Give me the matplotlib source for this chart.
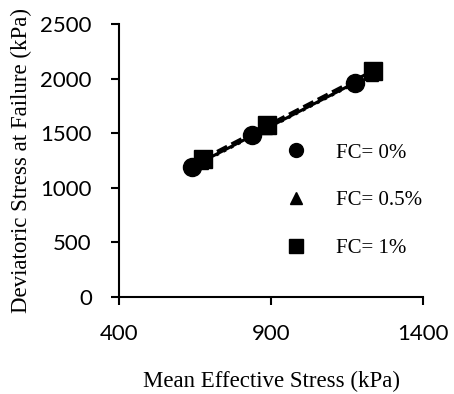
import numpy as np
import matplotlib
matplotlib.use("Agg")
import matplotlib.pyplot as plt

# mean effective stress p' (kPa) and deviatoric stress at failure q (kPa)
p_fc0 = [639, 836, 1177]
q_fc0 = [1186, 1478, 1962]
p_fc05 = [672, 884, 1232]
q_fc05 = [1225, 1545, 2035]
p_fc1 = [675, 888, 1236]
q_fc1 = [1259, 1578, 2071]

labels = ["FC= 0%", "FC= 0.5%", "FC= 1%"]

serif = "Liberation Serif"
sans = "Lato"

fig = plt.figure(figsize=(4.54, 3.94), dpi=100)
ax = fig.add_axes([0.262, 0.247, 0.670, 0.692])

# marker, trendline style, marker size (pt), z-order
series = [(p_fc0, q_fc0, "o", "-", 13, 4),
          (p_fc05, q_fc05, "^", ":", 9, 3),
          (p_fc1, q_fc1, "s", "--", 12.5, 4)]

# linear trendline per series, spanning its own data range
for p, q, m, ls, ms, z in series:
    k, b = np.polyfit(p, q, 1)
    xs = np.array([min(p), max(p)])
    ax.plot(xs, k * xs + b, color="black", linestyle=ls, linewidth=2.2,
            zorder=2 if ls != "-" else 2.5)

for (p, q, m, ls, ms, z), lab in zip(series, labels):
    ax.plot(p, q, linestyle="none", marker=m, markersize=ms, color="black",
            label=lab, zorder=z)

ax.set_xlim(400, 1400)
ax.set_ylim(0, 2500)
ax.set_xticks([400, 900, 1400])
ax.set_yticks(range(0, 2501, 500))
for s in ["top", "right"]:
    ax.spines[s].set_visible(False)
for s in ["left", "bottom"]:
    ax.spines[s].set_linewidth(1.5)
ax.tick_params(direction="out", length=6, width=1.5, labelsize=16)
ax.tick_params(axis="y", pad=13.5)
ax.tick_params(axis="x", pad=14)
for t in ax.get_xticklabels() + ax.get_yticklabels():
    t.set_fontfamily(sans)

ax.set_xlabel("Mean Effective Stress (kPa)", fontsize=16.5, fontfamily=serif, labelpad=19)
ax.set_ylabel("Deviatoric Stress at Failure (kPa)", fontsize=16.5, fontfamily=serif, labelpad=6)

leg_handles = [plt.Line2D([], [], linestyle="none", marker=m, markersize=s, color="black")
               for m, s in [("o", 10), ("^", 9), ("s", 9.5)]]
ax.legend(handles=leg_handles, labels=labels, loc="upper left",
          bbox_to_anchor=(275 / 454, 1 - 143 / 394), bbox_transform=fig.transFigure,
          borderaxespad=0, borderpad=0, frameon=False, labelspacing=1.35,
          handlelength=2.0, handletextpad=0.95,
          prop={"family": serif, "size": 15})

fig.savefig("out.png", dpi=100)
